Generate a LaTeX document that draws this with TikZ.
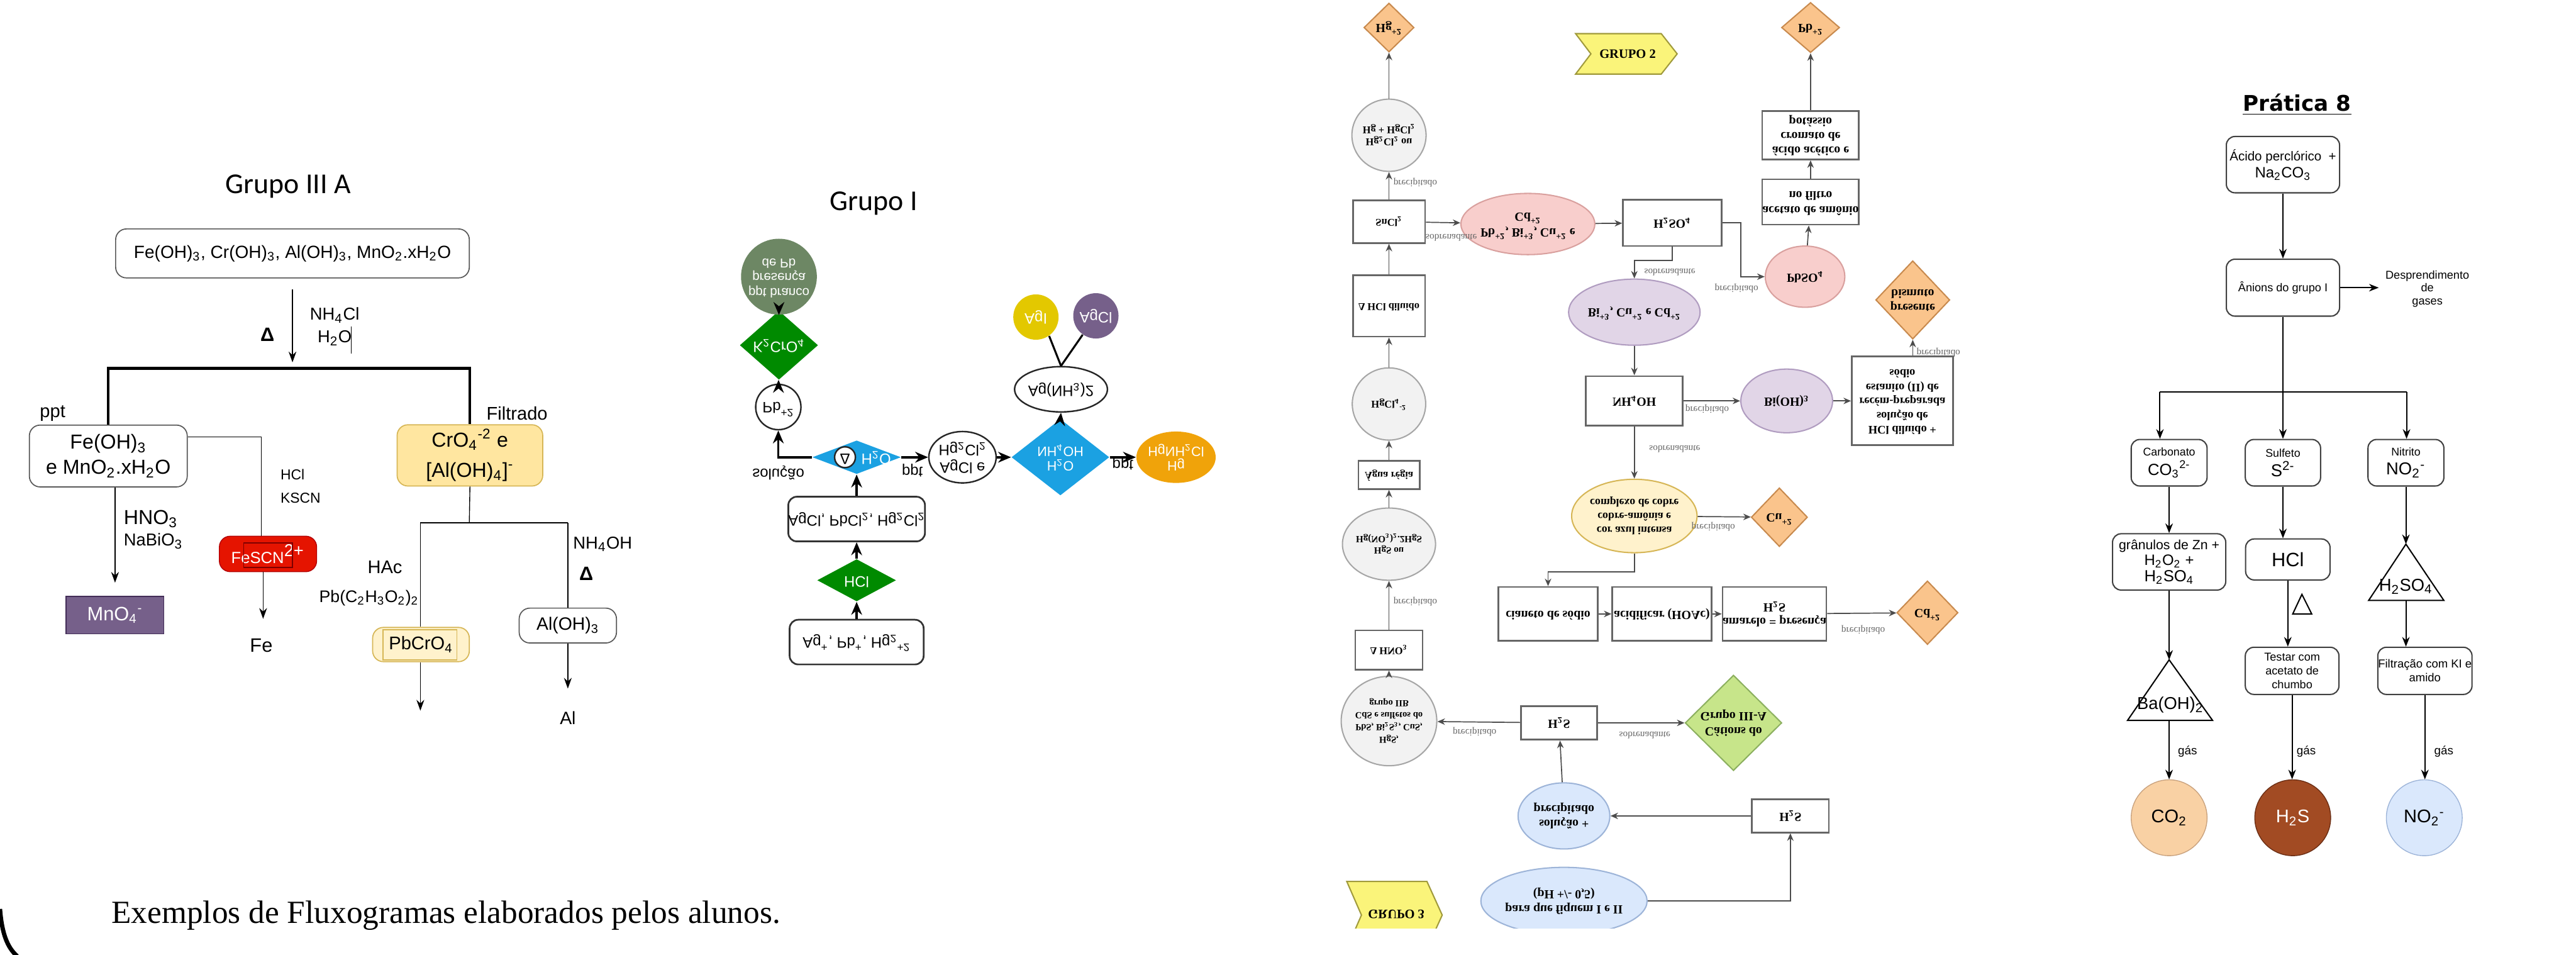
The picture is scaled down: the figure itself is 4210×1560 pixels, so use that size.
\documentclass[tikz,border=0pt]{standalone}
\usepackage{fontspec}
\usepackage{graphicx}
\setmainfont{Liberation Sans}
\newfontfamily\calfont{Carlito}
\newfontfamily\serfont{Liberation Serif}
\newfontfamily\djfont{DejaVu Sans}
\usetikzlibrary{shapes.geometric,arrows.meta}

\newcommand{\sbs}[1]{\textsubscript{#1}}
\newcommand{\sps}[1]{\textsuperscript{#1}}
\newcommand{\fsz}[2]{\fontsize{#1}{#2}\selectfont}
\newcommand{\vflip}[1]{\scalebox{1}[-1]{\begin{tabular}{@{}c@{}}#1\end{tabular}}}

\definecolor{yelA}{HTML}{FFE6A0}
\definecolor{yelAd}{HTML}{D6B656}
\definecolor{yelB}{HTML}{FFF2CC}
\definecolor{purA}{HTML}{76608A}
\definecolor{purAd}{HTML}{432D57}
\definecolor{redA}{HTML}{E51400}
\definecolor{redAd}{HTML}{B20000}
\definecolor{grnI}{HTML}{008A00}
\definecolor{bluI}{HTML}{1BA1E2}
\definecolor{ggI}{HTML}{6D8764}
\definecolor{yelI}{HTML}{E3C800}
\definecolor{orI}{HTML}{F0A30A}
\definecolor{orM}{HTML}{FAC48C}
\definecolor{orMd}{HTML}{C88A4E}
\definecolor{gryM}{HTML}{F2F2F2}
\definecolor{pinkM}{HTML}{F8CECC}
\definecolor{pinkMd}{HTML}{D9A09E}
\definecolor{purM}{HTML}{E1D5E7}
\definecolor{purMd}{HTML}{B09CC0}
\definecolor{grnM}{HTML}{C7E58A}
\definecolor{grnMd}{HTML}{8CB060}
\definecolor{bluM}{HTML}{DAE8FC}
\definecolor{bluMd}{HTML}{9DB4D8}
\definecolor{chvM}{HTML}{FAF47A}
\definecolor{chvMd}{HTML}{A09A3C}
\definecolor{coP}{HTML}{F9D1A4}
\definecolor{coPd}{HTML}{C9A27E}
\definecolor{hsP}{HTML}{A24B23}
\definecolor{hsPd}{HTML}{6B2E14}

\tikzset{
  wh/.style 2 args={minimum width=#1*0.01cm,minimum height=#2*0.01cm,inner sep=0pt},
  boxA/.style={draw=black!65,rounded corners=5pt,fill=white,align=center,line width=0.5pt},
  arrA/.style={-{Stealth[length=5pt,width=3.6pt]},line width=0.45pt},
  arrI/.style={-{Stealth[length=6pt,width=5pt]},line width=1.1pt},
  boxI/.style={draw=black!80,rounded corners=4pt,line width=0.8pt,fill=white,font=\fsz{7}{8}},
  dmd/.style={diamond,inner sep=0pt},
  ell/.style={ellipse,inner sep=0pt},
  txI/.style={font=\fsz{7}{8}},
  boxM/.style={draw=black!60,line width=0.8pt,fill=white,font=\serfont\bfseries\fsz{5.8}{6.8}},
  shM/.style={line width=0.6pt,font=\serfont\bfseries\fsz{5.8}{6.8}},
  lftM/.style={font=\serfont\bfseries\fsz{4.8}{5.8}},
  arrM/.style={-{Stealth[length=3.5pt,width=3pt]},draw=black!70,line width=0.5pt},
  lbl/.style={font=\serfont\fsz{4.5}{5},text=black!60,inner sep=1pt},
  boxP/.style={draw=black!75,rounded corners=4pt,line width=0.6pt,fill=white,align=center},
  arrP/.style={-{Stealth[length=4.5pt,width=3.5pt]},line width=0.6pt},
}

\begin{document}
\begin{tikzpicture}[x=0.01cm,y=-0.01cm]
\useasboundingbox (0,0) rectangle (4210,1560);

% Grupo III A
\node[font=\calfont\fsz{13.4}{16}] (tA) at (471,305) {Grupo III A};
\node[boxA,wh={578}{80},font=\fsz{8.2}{10}] (mistA) at (478,414)
  {Fe(OH)\sbs{3}, Cr(OH)\sbs{3}, Al(OH)\sbs{3}, MnO\sbs{2}.xH\sbs{2}O};
\path (478,473) coordinate (aA0) (478,592) coordinate (aA1) (478,602) coordinate (brA);
\draw[arrA] (aA0) -- (aA1);
\node[font=\bfseries\fsz{9}{10}] (dA) at (437,547) {Δ};
\node[font=\fsz{8}{10}] (nhA) at (547,515) {NH\sbs{4}Cl};
\node[font=\fsz{8}{10}] (hoA) at (547,552) {H\sbs{2}O};
\draw[line width=0.4pt] (574,533) -- (574,578);

\node[boxA,wh={258}{101},font=\fsz{9.4}{11.7}] (feA) at (177,745) {Fe(OH)\sbs{3}\\e MnO\sbs{2}.xH\sbs{2}O};
\node[boxA,fill=yelA,draw=yelAd,wh={238}{100},font=\fsz{9.4}{14}] (crA) at (768,744)
  {CrO\sbs{4}\sps{-2} e\\{}[Al(OH)\sbs{4}]\sps{-}};
\draw[line width=1.3pt] (feA.north) -- (feA.north |- brA) -- (crA.north |- brA) -- (crA.north);
\node[font=\fsz{8.5}{10}] (pptA) at (86,675) {ppt};
\node[font=\fsz{8.5}{10}] (filA) at (845,675) {Filtrado};

\node[wh={160}{61},fill=purA,draw=purAd,text=white,font=\fsz{9}{10}] (mnA) at (188,1005) {MnO\sbs{4}\sps{-}};
\path (188,952) coordinate (aA2);
\draw[arrA] (feA.south -| aA2) -- (aA2);
\node[font=\fsz{9.4}{11},anchor=west] (hnA) at (190,848) {HNO\sbs{3}};
\node[font=\fsz{8}{10},anchor=west] (nbA) at (190,884) {NaBiO\sbs{3}};

\node[wh={159}{58},rounded corners=5pt,fill=redA,draw=redAd,text=white,font=\fsz{7.5}{9}] (fsA) at (438,905)
  {FeSCN\textsuperscript{\fsz{8}{9}2+}};
\draw[draw=redAd!70!black,line width=0.4pt] (398,887) rectangle (478,927);
\path (427,714) coordinate (kA0) (430,1011) coordinate (aA3);
\draw (feA.east |- kA0) -- (kA0) -- (kA0 |- fsA.north);
\node[font=\fsz{6.7}{8},anchor=west] (hclA) at (446,775) {HCl};
\node[font=\fsz{6.7}{8},anchor=west] (kscnA) at (446,814) {KSCN};
\draw[arrA] (fsA.south -| aA3) -- (aA3);
\node[font=\fsz{9}{10}] (feT) at (427,1055) {Fe};

\path (767,854) coordinate (jA) (687,854) coordinate (jA1) (928,854) coordinate (jA2);
\draw (crA.south) -- (jA);
\draw (jA1) -- (jA2);
\node[boxA,fill=yelB,draw=yelAd,wh={158}{56},font=\fsz{8.5}{10}] (pbA) at (688,1053) {PbCrO\sbs{4}};
\draw[draw=yelAd,line width=0.4pt] (626,1029) rectangle (747,1078);
\node[boxA,wh={159}{57},font=\fsz{8.3}{10}] (alA) at (928,1022) {Al(OH)\sbs{3}};
\draw (jA1) -- (jA1 |- pbA.north);
\draw (jA2) -- (alA.north);
\path (687,1161) coordinate (aA4) (928,1125) coordinate (aA5);
\draw[arrA] (pbA.south -| aA4) -- (aA4);
\draw[arrA] (alA.south) -- (aA5);
\node[font=\fsz{8.3}{10}] (alT) at (928,1173) {Al};
\node[font=\fsz{8.5}{10}] (hacA) at (629,927) {HAc};
\node[font=\fsz{7.8}{10}] (pacA) at (603,977) {Pb(C\sbs{2}H\sbs{3}O\sbs{2})\sbs{2}};
\node[font=\fsz{8}{10}] (nhoA) at (985,889) {NH\sbs{4}OH};
\node[font=\bfseries\fsz{9}{10}] (dA2) at (958,937) {Δ};

% Grupo I
\node[font=\calfont\fsz{13.4}{16}] (tI) at (1428,332) {Grupo I};
\node[boxI,wh={219}{73}] (b1I) at (1400,1049) {\vflip{Ag\sps{+}, Pb\sps{+}, Hg\sbs{2}\sps{+2}}};
\node[dmd,fill=grnI,text=white,wh={129}{53},txI] (hclI) at (1400,948) {\vflip{HCl}};
\node[boxI,wh={219}{73}] (b2I) at (1400,848) {\vflip{AgCl, PbCl\sbs{2}, Hg\sbs{2}Cl\sbs{2}}};
\node[dmd,fill=bluI,wh={145}{55}] (dwI) at (1400,747) {};
\node[circle,draw=black!85,line width=0.7pt,fill=white,minimum size=34*0.01cm,inner sep=0pt,txI] (deI) at (1381,747) {\vflip{Δ}};
\node[txI,text=white] (hoI) at (1432,747) {\vflip{H\sbs{2}O}};
\node[circle,draw=black!85,line width=0.7pt,fill=white,minimum size=74*0.01cm,inner sep=0pt,txI] (pbI) at (1272,665) {\vflip{Pb\sps{+2}}};
\node[dmd,fill=grnI,text=white,wh={128}{54},txI] (kcI) at (1273,564) {\vflip{K\sbs{2}CrO\sbs{4}}};
\node[circle,fill=ggI,text=white,minimum size=100*0.01cm,inner sep=0pt,font=\fsz{6}{7}] (ppI) at (1273,452) {\vflip{ppt branco\\presença\\de Pb}};
\node[ell,draw=black!85,line width=0.7pt,fill=white,wh={92}{84},txI] (agI) at (1573,747) {\vflip{AgCl e\\Hg\sbs{2}Cl\sbs{2}}};
\node[dmd,fill=bluI,text=white,wh={160}{58},font=\fsz{6.3}{7}] (dnI) at (1733,747) {\vflip{H\sbs{2}O\\NH\sbs{4}OH}};
\node[ell,draw=black!85,line width=0.7pt,fill=white,wh={104}{74},txI] (anI) at (1734,636) {\vflip{Ag(NH\sbs{3})2}};
\node[circle,fill=yelI,text=white,minimum size=74*0.01cm,inner sep=0pt,txI] (aiI) at (1693,518) {\vflip{AgI}};
\node[circle,fill=purA,text=white,minimum size=74*0.01cm,inner sep=0pt,txI] (acI) at (1791,516) {\vflip{AgCl}};
\node[ell,fill=orI,text=white,wh={94}{84},font=\fsz{6.3}{7}] (hgI) at (1922,747) {\vflip{Hg\\HgNH\sbs{2}Cl}};
\draw[arrI] (b1I) -- (hclI);
\draw[arrI] (hclI) -- (b2I);
\draw[arrI] (b2I) -- (dwI);
\draw[arrI] (dwI.west) -| (pbI.south);
\draw[arrI] (pbI) -- (kcI);
\draw[arrI] (kcI) -- (ppI);
\draw[arrI] (dwI.east) -- (agI.west);
\draw[arrI] (agI.east) -- (dnI.west);
\draw[arrI] (dnI.north) -- (anI.south);
\draw[arrI] (dnI.east) -- (hgI.west);
\draw[line width=0.9pt] (anI.north) -- (aiI.-55);
\draw[line width=0.9pt] (anI.north) -- (acI.-125);
\node[txI] (soI) at (1272,772) {\vflip{solução}};
\node[txI] (pp1I) at (1491,769) {\vflip{ppt}};
\node[txI] (pp2I) at (1835,757) {\vflip{ppt}};

% fluxograma do meio (imagem espelhada)
\node[dmd,shM,fill=orM,draw=orMd,wh={82}{80}] (hgM) at (2270,45) {\vflip{Hg\sps{+2}}};
\node[dmd,shM,fill=orM,draw=orMd,wh={95}{82}] (pbM) at (2959,45) {\vflip{Pb\sps{+2}}};
\draw[fill=chvM,draw=chvMd,line width=0.6pt] (2575,55) -- (2715,55) -- (2741,88) -- (2715,121) -- (2575,121) -- (2600,88) -- cycle;
\node[font=\serfont\bfseries\fsz{6}{7}] (g2M) at (2660,88) {GRUPO 2};
\node[ell,shM,lftM,fill=gryM,draw=black!35,wh={120}{118}] (c1M) at (2270,221) {\vflip{Hg\sbs{2}Cl\sbs{2} ou\\Hg + HgCl\sbs{2}}};
\node[boxM,lftM,wh={118}{70}] (snM) at (2270,362) {\vflip{SnCl\sbs{2}}};
\node[boxM,lftM,wh={118}{100}] (dhM) at (2270,500) {\vflip{Δ HCl diluído}};
\node[ell,shM,lftM,fill=gryM,draw=black!35,wh={120}{118}] (c2M) at (2270,660) {\vflip{HgCl\sbs{4}\sps{-2}}};
\node[boxM,lftM,wh={100}{46}] (agM) at (2270,776) {\vflip{Água régia}};
\node[ell,shM,fill=gryM,draw=black!35,wh={120}{118},font=\serfont\bfseries\fsz{4.4}{5.4}] (c3M) at (2270,889) {\vflip{HgS ou\\Hg(NO\sbs{3})\sbs{2}.2HgS}};
\node[boxM,lftM,wh={110}{64}] (dnM) at (2270,1062) {\vflip{Δ HNO\sbs{3}}};
\node[ell,shM,fill=gryM,draw=black!35,wh={126}{146},font=\serfont\bfseries\fsz{4.3}{5.6}] (c4M) at (2270,1178)
  {\vflip{HgS,\\PbS, Bi\sbs{2}S\sbs{3}, CuS,\\CdS e sulfetos do\\grupo IIB}};
\node[boxM,wh={125}{55}] (s1M) at (2548,1181) {\vflip{H\sbs{2}S}};
\node[dmd,shM,fill=grnM,draw=grnMd,wh={158}{146}] (gdM) at (2833,1181) {\vflip{Cátions do\\Grupo III-A}};
\node[ell,shM,fill=bluM,draw=bluMd,wh={150}{108}] (b1M) at (2556,1333) {\vflip{solução +\\precipitado}};
\node[boxM,wh={126}{54}] (s2M) at (2926,1333) {\vflip{H\sbs{2}S}};
\begin{scope}
\clip (2150,1380) rectangle (2700,1517);
\node[ell,shM,fill=bluM,draw=bluMd,wh={180}{110}] (b2M) at (2556,1472) {\vflip{para que fiquem I e II\\(pH +/- 0,5)}};
\draw[fill=chvM,draw=chvMd,line width=0.6pt] (2201,1440) -- (2332,1440) -- (2357,1495) -- (2332,1550) -- (2201,1550) -- (2225,1495) -- cycle;
\node[font=\serfont\bfseries\fsz{6}{7}] (g3M) at (2282,1492) {\vflip{GRUPO 3}};
\end{scope}
\node[ell,shM,fill=pinkM,draw=pinkMd,wh={150}{100}] (p1M) at (2497,366) {\vflip{Pb\sps{+2}, Bi\sps{+3}, Cu\sps{+2} e\\Cd\sps{+2}}};
\node[boxM,wh={161}{76}] (hsM) at (2733,364) {\vflip{H\sbs{2}SO\sbs{4}}};
\node[ell,shM,fill=pinkM,draw=pinkMd,wh={130}{100}] (p2M) at (2950,452) {\vflip{PbSO\sbs{4}}};
\node[boxM,wh={158}{74}] (baM) at (2959,330) {\vflip{acetato de amônio\\no filtro}};
\node[boxM,wh={158}{79}] (bbM) at (2959,221) {\vflip{ácido acético e\\cromato de\\potássio}};
\node[ell,shM,fill=purM,draw=purMd,wh={156}{108}] (u1M) at (2671,510) {\vflip{Bi\sps{+3}, Cu\sps{+2} e Cd\sps{+2}}};
\node[boxM,wh={158}{81}] (nhM) at (2671,655) {\vflip{NH\sbs{4}OH}};
\node[ell,shM,fill=purM,draw=purMd,wh={150}{104}] (u2M) at (2920,655) {\vflip{Bi(OH)\sbs{3}}};
\node[boxM,wh={165}{145},font=\serfont\bfseries\fsz{5.4}{6.6}] (tbM) at (3109,655)
  {\vflip{HCl diluído +\\solução de\\recém-preparada\\estanito (II) de\\sódio}};
\node[dmd,shM,fill=orM,draw=orMd,wh={100}{128}] (biM) at (3126,490) {\vflip{presente\\bismuto}};
\node[ell,shM,fill=yelB,draw=yelAd,wh={158}{120},font=\serfont\bfseries\fsz{5.2}{6.4}] (yeM) at (2671,843)
  {\vflip{cor azul intensa\\cobre-amônia e\\complexo de cobre}};
\node[dmd,shM,fill=orM,draw=orMd,wh={92}{96}] (cuM) at (2908,845) {\vflip{Cu\sps{+2}}};
\node[boxM,wh={162}{88}] (k1M) at (2530,1003) {\vflip{cianeto de sódio}};
\node[boxM,wh={162}{88}] (k2M) at (2716,1003) {\vflip{acidificar (HOAc)}};
\node[boxM,wh={162}{88}] (k3M) at (2900,1003) {\vflip{amarelo = presença\\H\sbs{2}S}};
\node[dmd,shM,fill=orM,draw=orMd,wh={100}{104}] (cdM) at (3150,1001) {\vflip{Cd\sps{+2}}};

\draw[arrM] (snM) -- (c1M);
\draw[arrM] (c1M) -- (hgM);
\draw[arrM] (dhM) -- (snM);
\draw[arrM] (c2M) -- (dhM);
\draw[arrM] (agM) -- (c2M);
\draw[arrM] (c3M) -- (agM);
\draw[arrM] (dnM) -- (c3M);
\draw[arrM] (c4M) -- (dnM);
\draw[arrM] (s1M) -- (c4M);
\draw[arrM] (s1M) -- (gdM);
\draw[arrM] (b1M) -- (s1M);
\draw[arrM] (s2M) -- (b1M);
\draw[arrM] (b2M.east) -| (s2M.south);
\draw[arrM] (snM) -- (p1M);
\draw[arrM] (p1M) -- (hsM);
\draw[arrM] (hsM.east) -- ++(30,0) |- (p2M.west);
\draw[arrM] (hsM.south) -- ++(0,22) -| (u1M.north);
\draw[arrM] (p2M) -- (baM);
\draw[arrM] (baM) -- (bbM);
\draw[arrM] (bbM) -- (pbM);
\draw[arrM] (u1M) -- (nhM);
\draw[arrM] (nhM) -- (u2M);
\draw[arrM] (u2M) -- (tbM);
\draw[arrM] (tbM.north -| biM) -- (biM);
\draw[arrM] (nhM) -- (yeM);
\draw[arrM] (yeM) -- (cuM);
\draw[arrM] (yeM.south) -- ++(0,30) -| (k1M.north);
\draw[arrM] (k1M) -- (k2M);
\draw[arrM] (k2M) -- (k3M);
\draw[arrM] (k3M) -- (cdM);
\foreach \x/\y/\t [count=\i] in {2313/298/precipitado, 2372/386/sobrenadante, 2838/471/precipitado,
    2729/443/sobrenadante, 3168/575/precipitado, 2790/668/precipitado, 2737/732/sobrenadante,
    2800/860/precipitado, 3045/1029/precipitado, 2313/982/precipitado, 2410/1195/precipitado,
    2688/1199/sobrenadante}
  \node[lbl] (lm\i) at (\x,\y) {\vflip{\t}};

% Pratica 8
\node[font=\djfont\bfseries\fsz{10}{12}] (tP) at (3754,171) {\underline{Prática 8}};
\node[boxP,wh={185}{92},font=\fsz{6}{8}] (p1P) at (3731,269) {Ácido perclórico\ \ +\\{\fsz{7}{8}Na\sbs{2}CO\sbs{3}}};
\node[boxP,wh={185}{93},font=\fsz{5.3}{7}] (p2P) at (3731,470) {Ânions do grupo I};
\node[align=center,font=\fsz{5.3}{6}] (gaP) at (3967,472) {Desprendimento\\de\\gases};
\draw[arrP] (p1P) -- (p2P);
\draw[arrP] (p2P.east) -- ++(63,0);
\path (3731,640) coordinate (jP) (3530,640) coordinate (jP1) (3933,640) coordinate (jP2);
\draw[line width=0.6pt] (p2P.south) -- (jP);
\draw[line width=0.6pt] (jP1) -- (jP2);
\node[boxP,wh={124}{76},font=\fsz{5.2}{9}] (caP) at (3545,756) {Carbonato\\{\fsz{7.5}{8}CO\sbs{3}\sps{2-}}};
\node[boxP,wh={123}{76},font=\fsz{5.2}{9}] (suP) at (3731,756) {Sulfeto\\{\fsz{8}{8}S\sps{2-}}};
\node[boxP,wh={124}{76},font=\fsz{5.2}{9}] (niP) at (3932,756) {Nitrito\\{\fsz{8}{8}NO\sbs{2}\sps{-}}};
\foreach \c/\n in {jP1/caP, jP/suP, jP2/niP}
  \draw[arrP] (\c) -- (\c |- \n.north);
\node[boxP,wh={185}{92},font=\fsz{6.2}{7.5}] (grP) at (3545,918) {grânulos de Zn +\\{\fsz{7}{8}H\sbs{2}O\sbs{2} +}\\{\fsz{7.5}{8.5}H\sbs{2}SO\sbs{4}}};
\node[boxP,wh={138}{67},font=\fsz{9}{10}] (hcP) at (3739,914) {HCl};
\node[boxP,wh={153}{77},font=\fsz{5.3}{6.3}] (teP) at (3746,1096) {Testar com\\acetato de\\chumbo};
\node[boxP,wh={154}{77},font=\fsz{5.4}{6.4}] (fiP) at (3963,1096) {Filtração com KI e\\amido};
\path (3545,1078) coordinate (t1a) (3545,1177) coordinate (t1b) (3932,889) coordinate (t2a) (3932,981) coordinate (t2b);
\draw[line width=0.6pt] (t1a) -- (3616,1177) -- (3477,1177) -- cycle;
\draw[line width=0.6pt] (t2a) -- (3994,981) -- (3871,981) -- cycle;
\draw[line width=0.6pt] (3762,971) -- (3778,1003) -- (3747,1003) -- cycle;
\node[font=\fsz{8}{9}] (baP) at (3547,1152) {Ba(OH)\sbs{2}};
\node[font=\fsz{8}{9}] (h2P) at (3932,958) {H\sbs{2}SO\sbs{4}};
\node[circle,fill=coP,draw=coPd,minimum size=124*0.01cm,inner sep=0pt,font=\fsz{8.5}{9}] (coP) at (3545,1336) {CO\sbs{2}};
\node[circle,fill=hsP,draw=hsPd,text=white,minimum size=124*0.01cm,inner sep=0pt,font=\fsz{8.5}{9}] (hsP) at (3747,1336) {H\sbs{2}S};
\node[circle,fill=bluM,draw=bluMd,minimum size=124*0.01cm,inner sep=0pt,font=\fsz{8.5}{9}] (noP) at (3962,1336) {NO\sbs{2}\sps{-}};
\draw[arrP] (caP) -- (grP);
\draw[arrP] (grP) -- (t1a);
\draw[arrP] (t1b) -- (coP);
\draw[arrP] (suP.south) -- (suP.south |- hcP.north);
\draw[arrP] (hcP.south) -- (hcP.south |- teP.north);
\draw[arrP] (teP.south) -- (teP.south |- hsP.north);
\draw[arrP] (niP.south) -- (t2a);
\draw[arrP] (t2b) -- (t2b |- fiP.north);
\draw[arrP] (fiP.south) -- (fiP.south |- noP.north);
\foreach \x [count=\i] in {3575,3769,3994}
  \node[font=\fsz{5.5}{6}] (gP\i) at (\x,1228) {gás};

% legenda
\node[font=\serfont\fsz{15}{18},anchor=base west] (capt) at (170,1508) {Exemplos de Fluxogramas elaborados pelos alunos.};
\draw[line width=2pt] (0,1485) .. controls (3,1525) and (12,1548) .. (28,1562);
\end{tikzpicture}
\end{document}
